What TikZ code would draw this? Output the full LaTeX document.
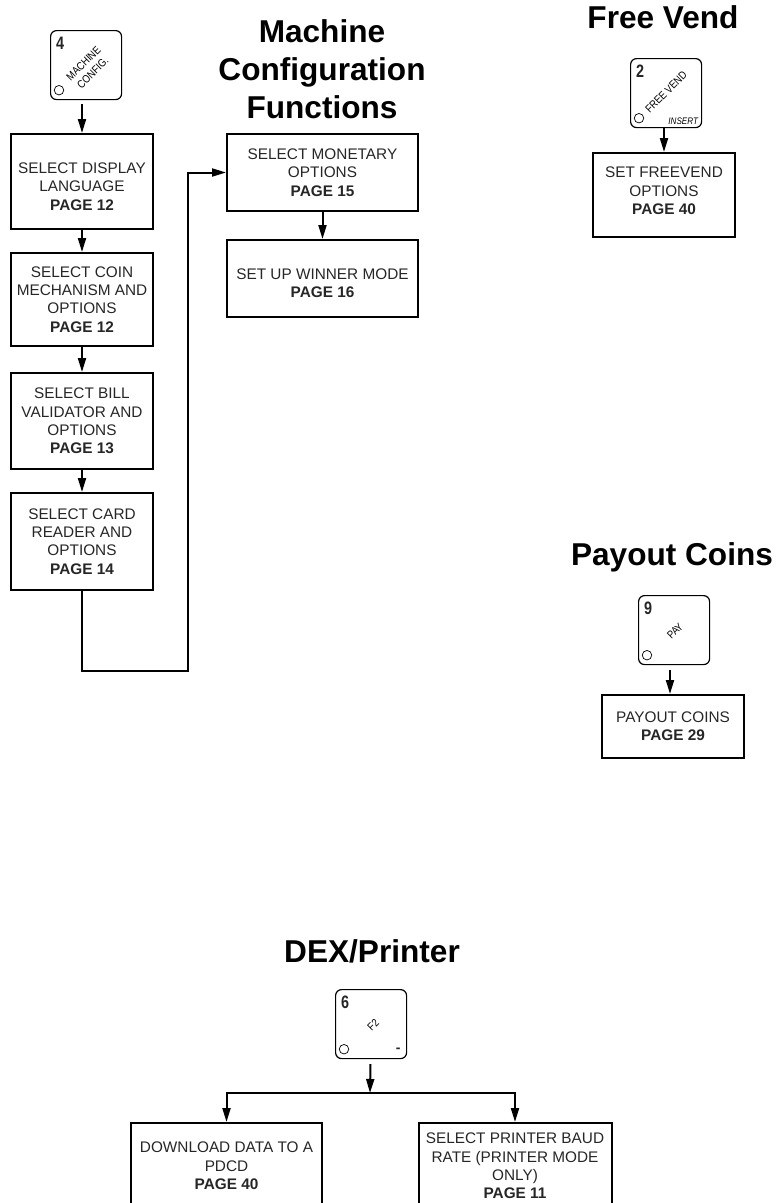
\documentclass[tikz,border=0pt]{standalone}
\usepackage{fontspec}
\setmainfont{Liberation Sans}
\usetikzlibrary{arrows.meta,calc}
\newcommand{\toppad}{\mbox{}\\[2pt]}
\newcommand{\botpad}{\\[-10pt]}

\begin{document}
\begin{tikzpicture}[
    x=1pt, y=-1pt,
    >={Triangle[length=14pt,width=8pt]},
    line width=2pt,
    stepbox/.style={draw, minimum width=#1, inner sep=0pt, align=center, anchor=north west, font=\fontsize{15.35}{18.4}\selectfont, text=black!85},
    stepbox/.default=142pt,
    wide box/.style={stepbox=191pt},
    key/.style={draw, rounded corners=6pt, line width=1.2pt, minimum width=71pt, minimum height=69pt, inner sep=0pt, anchor=north west},
    key lamp/.style={draw, circle, line width=0.7pt, minimum size=9.5pt, inner sep=0pt},
    key num/.style={font=\bfseries\fontsize{18}{18}\selectfont\addfontfeature{FakeStretch=0.8}, inner sep=0pt, text=black!85},
    key text/.style={font=\fontsize{11}{13}\selectfont\addfontfeature{FakeStretch=0.85}, rotate=45, align=center, inner sep=0pt, text=black},
    key note/.style={font=\itshape\fontsize{9.5}{9.5}\selectfont\addfontfeature{FakeStretch=0.85}, inner sep=0pt, text=black},
    heading/.style={font=\bfseries\fontsize{31.6}{38}\selectfont, align=center, inner sep=0pt}
]
    \useasboundingbox (0,0) rectangle (777,1203);

    % Headings
    \node[heading] (title-machine) at (322,69) {Machine\\Configuration\\Functions};
    \node[heading] (title-free) at (663,17) {Free Vend};
    \node[heading] (title-payout) at (672,557) {Payout Coins};
    \node[heading] (title-dex) at (372,951) {DEX/Printer};

    % Draw the keys
    \foreach \name / \x / \y / \n in {config/50/30/4, free/630/58/2, pay/638/595/9, dex/335/989/6} {
        \node[key] (K-\name) at (\x,\y) {};
        \node[key lamp] (L-\name) at ($(K-\name.south west)+(9,-10)$) {};
        \node[key num, anchor=north west] (N-\name) at ($(K-\name.north west)+(5,6)$) {\n};
    }
    \node[key text] (T-config) at ($(K-config.center)+(2,3)$) {MACHINE\\CONFIG.};
    \node[key text] (T-free) at ($(K-free.center)+(0,-1)$) {FREE VEND};
    \node[key note] (T-insert) at ($(K-free.south east)+(-19,-7)$) {INSERT};
    \node[key text] (T-pay) at ($(K-pay.center)+(1,1)$) {PAY};
    \node[key text] (T-dex) at ($(K-dex.center)+(2,1)$) {F2};
    \node[key num, font=\bfseries\fontsize{14}{14}\selectfont] (M-dex) at ($(K-dex.south east)+(-9,-9)$) {-};

    % Draw the step boxes
    \node[stepbox, minimum height=95pt] (language) at (10,133) {\toppad SELECT DISPLAY\\LANGUAGE\\\textbf{PAGE 12}};
    \node[stepbox, minimum height=93pt] (coin) at (10,252) {SELECT COIN\\MECHANISM AND\\OPTIONS\\\textbf{PAGE 12}};
    \node[stepbox, minimum height=96pt] (bill) at (10,372) {SELECT BILL\\VALIDATOR AND\\OPTIONS\\\textbf{PAGE 13}};
    \node[stepbox, minimum height=97pt] (card) at (10,492) {SELECT CARD\\READER AND\\OPTIONS\\\textbf{PAGE 14}};
    \node[wide box, minimum height=77pt] (monetary) at (226,133) {SELECT MONETARY\\OPTIONS\\\textbf{PAGE 15}};
    \node[wide box, minimum height=77pt] (winner) at (226,239) {\toppad SET UP WINNER MODE\\\textbf{PAGE 16}};
    \node[stepbox, minimum height=84pt] (freevend) at (592,152) {SET FREEVEND\\OPTIONS\\\textbf{PAGE 40}\botpad};
    \node[stepbox, minimum height=63pt] (payout) at (601,694) {PAYOUT COINS\\\textbf{PAGE 29}};

    % These two run off the bottom of the page
    \node[wide box, minimum height=86pt] (download) at (130,1122) {DOWNLOAD DATA TO A\\PDCD\\\textbf{PAGE 40}};
    \node[stepbox=193pt, minimum height=86pt] (printer) at (417.5,1122) {SELECT PRINTER BAUD\\RATE (PRINTER MODE\\ONLY)\\\textbf{PAGE 11}};

    % Free ends of the arrows under the keys
    \coordinate (start-config) at (82,104);
    \coordinate (start-free) at (664,128);
    \coordinate (start-pay) at (670,670);
    \coordinate (start-dex) at (370.5,1064);
    \coordinate (branch) at (370,1093);

    % Connect the keys with their first box
    \draw[->] (start-config) -- (start-config |- language.north);
    \draw[->] (start-free) -- (start-free |- freevend.north);
    \draw[->] (start-pay) -- (start-pay |- payout.north);
    \draw[->] (start-dex) -- (branch);
    \draw[->] (branch) -| (download.north);
    \draw[->] (branch) -| (printer.north);

    % Connect the boxes
    \foreach \source / \dest in {language/coin, coin/bill, bill/card, monetary/winner}
        \draw[->] (\source) -- (\dest);
    \coordinate (corner) at (188,671);
    \draw[->] (card.south) |- (corner) -- (corner |- monetary.west) -- (monetary.west);
\end{tikzpicture}
\end{document}
